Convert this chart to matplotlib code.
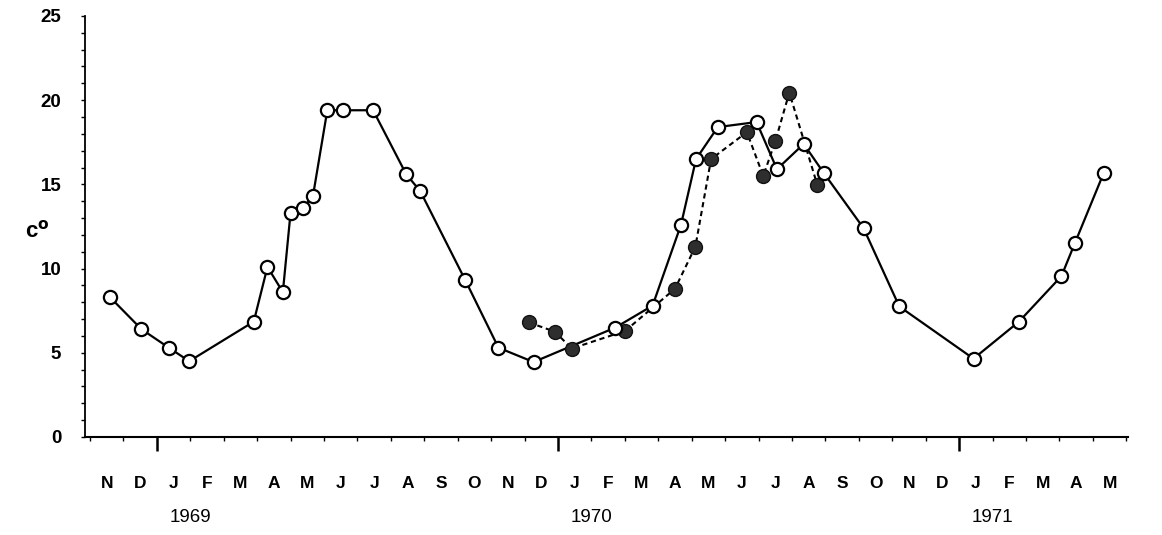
import matplotlib
matplotlib.use("Agg")
import matplotlib.pyplot as plt
from matplotlib.ticker import MultipleLocator

# Months counted from 1 January 1969 (0 = start of Jan 1969)
open_month = [-1.40, -0.46, 0.36, 0.97, 2.90, 3.31, 3.77, 4.00, 4.37, 4.67,
              5.10, 5.57, 6.47, 7.46, 7.88, 9.23, 10.22, 11.27, 13.72, 14.83,
              15.68, 16.13, 16.78, 17.94, 18.55, 19.35, 19.96, 21.14, 22.21,
              24.43, 25.79, 27.06, 27.46, 28.33]
open_temp = [8.3, 6.4, 5.3, 4.5, 6.85, 10.1, 8.6, 13.3, 13.6, 14.3,
             19.4, 19.4, 19.4, 15.6, 14.6, 9.3, 5.3, 4.45, 6.5, 7.8,
             12.6, 16.5, 18.4, 18.7, 15.9, 17.4, 15.65, 12.4, 7.75,
             4.65, 6.85, 9.55, 11.5, 15.7]

filled_month = [11.13, 11.91, 12.41, 14.01, 15.50, 16.11, 16.58, 17.65,
                18.14, 18.50, 18.92, 19.76]
filled_temp = [6.8, 6.25, 5.25, 6.3, 8.8, 11.3, 16.5, 18.1,
               15.5, 17.55, 20.45, 14.95]

month_letters = ["N", "D", "J", "F", "M", "A", "M", "J", "J", "A", "S", "O",
                 "N", "D", "J", "F", "M", "A", "M", "J", "J", "A", "S", "O",
                 "N", "D", "J", "F", "M", "A", "M"]
first_month = -2
year_labels = ["1969", "1970", "1971"]

plt.rcParams["font.family"] = ["Liberation Sans", "DejaVu Sans"]

fig = plt.figure(figsize=(11.62, 5.35), dpi=100)
ax = fig.add_axes([0.0731, 0.1832, 0.8976, 0.787])

# dashed series with filled dots
ax.plot(filled_month, filled_temp, color="black", lw=1.5,
        linestyle=(0, (2.5, 1.8)), zorder=2)
ax.plot(filled_month, filled_temp, linestyle="none", marker="o", ms=10,
        mfc="#2e2e2e", mec="#111111", mew=1.0, zorder=3)

# solid series with open circles
ax.plot(open_month, open_temp, color="black", lw=1.6, zorder=2)
ax.plot(open_month, open_temp, linestyle="none", marker="o", ms=9.5,
        mfc="white", mec="black", mew=1.6, zorder=4)

ax.set_xlim(-2.15, 29.05)
ax.set_ylim(0, 25)

for s in ["top", "right"]:
    ax.spines[s].set_visible(False)
ax.spines["left"].set_linewidth(1.3)
ax.spines["bottom"].set_linewidth(1.5)

# y axis
ax.yaxis.set_major_locator(MultipleLocator(5))
ax.yaxis.set_minor_locator(MultipleLocator(1))
ax.tick_params(axis="y", which="both", direction="out", length=3, width=1.0,
               pad=14, labelsize=13.5)
for lab in ax.get_yticklabels():
    lab.set_fontweight("bold")
ax.set_ylabel(r"c$^{\bf o}$", rotation=0, fontsize=16, fontweight="bold")
ax.yaxis.set_label_coords(-0.046, 0.462)

# x axis: year ticks (long) and month ticks (short)
n_months = len(month_letters)
year_starts = [0, 12, 24]
ax.set_xticks(year_starts)
ax.set_xticklabels([""] * 3)
ax.set_xticks(range(first_month, first_month + n_months + 1), minor=True)
ax.tick_params(axis="x", which="major", direction="out", length=10, width=1.8)
ax.tick_params(axis="x", which="minor", direction="out", length=3, width=1.0)

# month letters centred in each month
sec = ax.secondary_xaxis("bottom")
sec.set_xticks([first_month + i + 0.5 for i in range(n_months)])
sec.set_xticklabels(month_letters, fontsize=12.5, fontweight="bold")
sec.tick_params(length=0, pad=28)
sec.spines["bottom"].set_visible(False)

# years
sec2 = ax.secondary_xaxis("bottom")
sec2.set_xticks([s + 1 for s in year_starts])
sec2.set_xticklabels(year_labels, fontsize=13.5)
sec2.tick_params(length=0, pad=52)
sec2.spines["bottom"].set_visible(False)

fig.savefig("out.png", dpi=100)
